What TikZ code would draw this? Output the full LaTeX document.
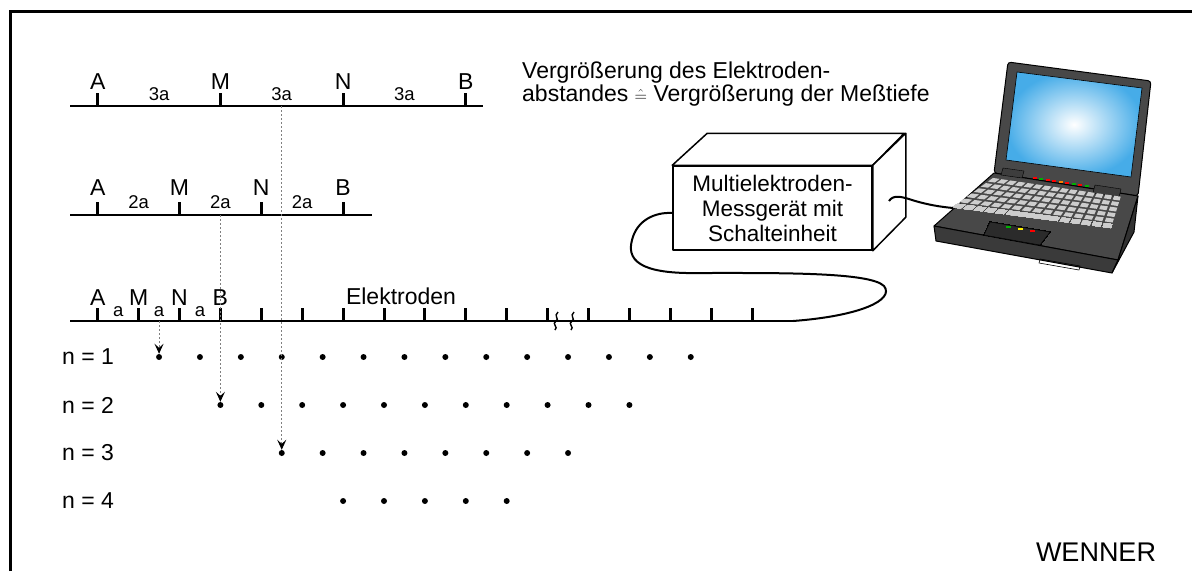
\documentclass[tikz,border=0pt]{standalone}
\usepackage{fontspec}
\setmainfont{Liberation Sans}
\usetikzlibrary{arrows.meta}

\definecolor{screenblue}{RGB}{70,172,232}
\definecolor{body}{RGB}{72,72,72}
\definecolor{keygray}{RGB}{205,205,205}

\def\s{40.9}
\def\e{97.7}
% Punkt auf der Tastatur (bilinear zwischen den vier Ecken)
\newcommand\kp[2]{({(1-(#2))*(993+(#1)*129)+(#2)*(950+(#1)*162)},{(1-(#2))*(177+(#1)*19)+(#2)*(208+(#1)*21)})}
\newcommand\taste[3]{\fill[keygray] \kp{(#1+0.12)/15}{(#3+0.15)/6} -- \kp{(#2+0.88)/15}{(#3+0.15)/6}
	-- \kp{(#2+0.88)/15}{(#3+0.85)/6} -- \kp{(#1+0.12)/15}{(#3+0.85)/6} -- cycle;}

\begin{document}
\begin{tikzpicture}[x=1pt,y=-1pt,
  grundlinie/.style={line width=2pt},
  stab/.style={line width=3pt},
  pkt/.style={circle,fill,inner sep=0pt,minimum size=6pt},
  lot/.style={gray,dash pattern=on 2pt off 2pt,line width=0.9pt,
    -{Stealth[black,length=10pt,width=9pt,inset=4pt,line width=1.2pt]}},
  gross/.style={font=\fontsize{23}{24}\selectfont,inner sep=0pt},
  klein/.style={font=\fontsize{18.5}{20}\selectfont,inner sep=0pt},
  txt/.style={font=\fontsize{23}{20.5}\selectfont,inner sep=0pt},
  kabel/.style={line width=2pt},
  kiste/.style={draw,line width=1.5pt,fill=white,line join=round},
]
\useasboundingbox (0,0) rectangle (1192,571);
\draw[line width=3pt] (10,571) -- (10,11) -- (1192,11);

% Abstand 3a
\draw[grundlinie] (70,106) -- (483,106);
\foreach \k/\t in {0/A,3/M,6/N,9/B}
{
	\draw[stab] (\e+\k*\s,106) -- ++(0,-13);
	\node[gross,anchor=base] (d\t) at (\e+\k*\s,89.5) {\t};
}
\foreach \k in {0,3,6}
	\node[klein,anchor=base] (dd\k) at (\e+\k*\s+1.5*\s,100.7) {3a};

% Abstand 2a
\draw[grundlinie] (70,215) -- (372,215);
\foreach \k/\t in {0/A,2/M,4/N,6/B}
{
	\draw[stab] (\e+\k*\s,215) -- ++(0,-13);
	\node[gross,anchor=base] (z\t) at (\e+\k*\s,195) {\t};
}
\foreach \k in {0,2,4}
	\node[klein,anchor=base] (zz\k) at (\e+\k*\s+\s,208.3) {2a};

% Abstand a, alle Elektroden
\draw[grundlinie] (70,321) -- (793,321) coordinate (ende);
\foreach \k in {0,...,16}
	\draw[stab] (\e+\k*\s,321) -- ++(0,-13);
\foreach \k/\t in {0/A,1/M,2/N,3/B}
	\node[gross,anchor=base] (e\t) at (\e+\k*\s,305) {\t};
\foreach \k in {0,1,2}
	\node[klein,anchor=base] (ee\k) at (\e+\k*\s+0.5*\s,316) {a};
\node[txt,anchor=base] (elek) at (401,304) {Elektroden};
\draw[line width=1.4pt] (558,312) .. controls (553,316) and (560,319) .. (556,321) .. controls (551,324) and (559,327) .. (555,330);
\draw[line width=1.4pt] (574,312) .. controls (569,316) and (576,319) .. (572,321) .. controls (567,324) and (575,327) .. (571,330);

% Messpunkte
\foreach \n/\m in {1/13,2/10,3/7,4/4}
{
	\node[txt,anchor=west] (n\n) at (62,{309+48*\n}) {n = \n};
	\foreach \i in {0,...,\m}
		\node[pkt] (p\n-\i) at ({\e+(\i+1.5*\n)*\s},{309+48*\n}) {};
}
\coordinate (m1) at (\e+1.5*\s,321);
\coordinate (m2) at (\e+3*\s,215);
\coordinate (m3) at (\e+4.5*\s,106);
\draw[lot] (m1) -- (p1-0);
\draw[lot] (m2) -- (p2-0);
\draw[lot] (m3) -- (p3-0);

\node[txt,anchor=north west,align=left] (hinweis) at (522,62)
	{Vergrößerung des Elektroden-\\abstandes {\fontsize{18}{18}\selectfont$\hat{=}$} Vergrößerung der Meßtiefe};

% Messgeraet
\node[kiste,minimum width=199pt,minimum height=84pt,align=center,
	font=\fontsize{22.5}{25}\selectfont] (geraet) at (772.5,208)
	{Multielektroden-\\Messgerät mit\\Schalteinheit};
\draw[kiste] (geraet.north west) -- ++(35,-32) -- ++(197,0) -- (geraet.north east) -- cycle;
\draw[kiste] (geraet.north east) -- ++(33,-32) -- ++(0,84) -- (geraet.south east) -- cycle;
\coordinate (seite) at (889,201);
\coordinate (pc) at (953,208);

\draw[kabel] (ende) .. controls (860,316) and (895,300) .. (884,286)
	.. controls (870,272) and (780,273) .. (700,273)
	.. controls (650,274) and (625,265) .. (632,240)
	.. controls (637,220) and (655,212) .. ([yshift=-5pt]geraet.west);

% Notebook
\begin{scope}[line join=round]
	\draw[fill=body,line width=1pt,rounded corners=3pt] (1008,62) -- (1151,81) -- (1138,196) -- (994,173) -- cycle;
	\shade[inner color=white,outer color=screenblue] (1017,72) -- (1142,88) -- (1131,177) -- (1006,160) -- cycle;
	\draw[line width=0.6pt] (1017,72) -- (1142,88) -- (1131,177) -- (1006,160) -- cycle;
	\draw[fill=body,line width=1pt] (994,173) -- (1138,196) -- (1118,260) -- (934,226) -- cycle;
	\draw[fill=body!80!black,line width=1pt] (934,226) -- (1118,260) -- (1112,273) -- (936,241) -- cycle;
	\draw[fill=body!70!black,line width=1pt] (1138,196) -- (1134,232) -- (1112,273) -- (1118,260) -- cycle;
	\draw[fill=body!85!black] (1003,168) -- (1024,171) -- (1022,178) -- (1001,175) -- cycle;
	\draw[fill=body!85!black] (1095,185) -- (1121,189) -- (1119,197) -- (1093,193) -- cycle;
	\foreach \c [count=\j] in {red,green!70!black,red,red,orange,red,green!70!black,red,green!70!black}
		\fill[\c] (1026+6.5*\j,175.5+1.1*\j) rectangle ++(4,2);
	\foreach \r in {0,...,4}
		\foreach \c in {0,...,14}
			\taste{\c}{\c}{\r}
	\foreach \c in {0,...,4,10,11,12,13,14}
		\taste{\c}{\c}{5}
	\taste{5}{9}{5}
	\draw[fill=body!60!black] (990,222) -- (1050,232) -- (1040,245) -- (984,235) -- cycle;
	\fill[green!70!black] (1006,226) rectangle ++(5,2);
	\fill[yellow] (1018,228) rectangle ++(5,2);
	\fill[red] (1030,230) rectangle ++(5,2);
	\draw[line width=0.6pt] (1040,259) -- (1080,266) -- (1079,270) -- (1039,263) -- cycle;
\end{scope}
\draw[kabel] (seite) .. controls (893,195) and (900,196) .. (912,200)
	.. controls (928,205) and (942,207) .. (pc);

\node[font=\fontsize{27}{28}\selectfont,anchor=base,inner sep=0pt] (wenner) at (1096,561) {WENNER};
\end{tikzpicture}
\end{document}
